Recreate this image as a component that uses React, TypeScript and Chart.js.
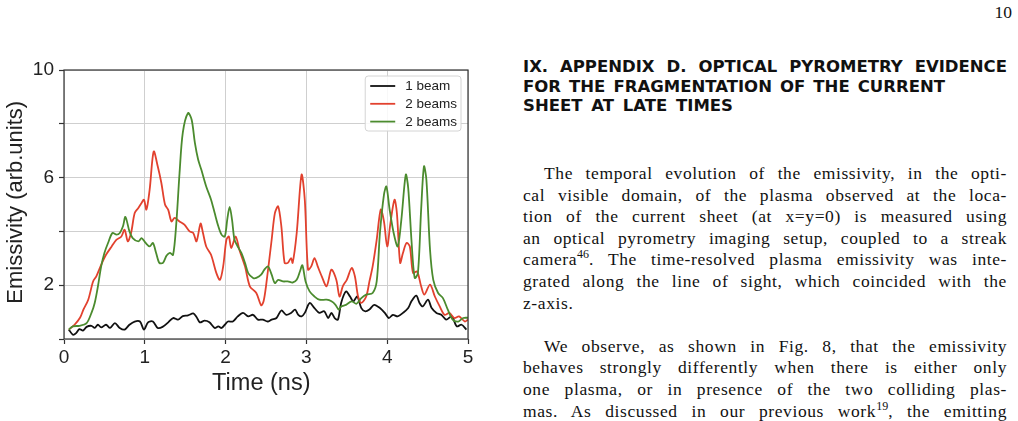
import React, { useEffect, useRef } from "react";
import { Chart, registerables } from "chart.js";

Chart.register(...registerables);

// ---------- data ----------
const seriesLabels = ["1 beam", "2 beams", "2 beams"];
const seriesColors = ["#111111", "#e2412e", "#4b8b2e"];
const xTickValues = [0, 1, 2, 3, 4, 5];
const yTickLabels = [2, 6, 10];

const beam1T = [0.06, 0.11, 0.15, 0.19, 0.235, 0.28, 0.34, 0.38, 0.42, 0.46, 0.52, 0.57, 0.63, 0.69, 0.75, 0.81, 0.875, 0.94, 0.99, 1.04, 1.1, 1.16, 1.22, 1.29, 1.35, 1.41, 1.47, 1.535, 1.6, 1.64, 1.68, 1.74, 1.8, 1.865, 1.91, 1.95, 1.99, 2.03, 2.09, 2.15, 2.215, 2.28, 2.34, 2.4, 2.46, 2.52, 2.57, 2.63, 2.69, 2.75, 2.81, 2.86, 2.9, 2.94, 2.98, 3.04, 3.1, 3.16, 3.22, 3.27, 3.31, 3.35, 3.39, 3.43, 3.49, 3.54, 3.58, 3.63, 3.68, 3.73, 3.78, 3.84, 3.91, 3.97, 4.02, 4.07, 4.13, 4.195, 4.26, 4.3, 4.36, 4.4, 4.44, 4.505, 4.55, 4.61, 4.67, 4.73, 4.8, 4.86, 4.92, 4.98];
const beam1V = [0.35, 0.16, 0.22, 0.37, 0.31, 0.45, 0.49, 0.41, 0.53, 0.43, 0.53, 0.41, 0.59, 0.41, 0.35, 0.53, 0.65, 0.65, 0.35, 0.62, 0.65, 0.41, 0.45, 0.62, 0.78, 0.72, 0.85, 0.88, 0.95, 0.82, 0.62, 0.68, 0.62, 0.41, 0.47, 0.41, 0.53, 0.65, 0.65, 0.84, 0.97, 0.84, 0.9, 0.72, 0.72, 0.65, 0.72, 0.78, 1.06, 0.9, 0.97, 1.09, 0.9, 0.84, 0.97, 1.34, 1.15, 0.97, 1.03, 0.78, 0.97, 0.78, 0.72, 1.34, 1.77, 1.58, 1.4, 1.58, 1.15, 1.03, 1.1, 1.27, 1.15, 0.97, 0.78, 0.9, 0.84, 0.97, 1.15, 1.4, 1.61, 1.34, 1.21, 1.46, 1.15, 0.97, 0.9, 0.72, 0.84, 0.47, 0.53, 0.35];

const redT = [0.06, 0.13, 0.2, 0.24, 0.3, 0.36, 0.4, 0.46, 0.52, 0.59, 0.65, 0.71, 0.75, 0.79, 0.83, 0.875, 0.92, 0.96, 0.99, 1.02, 1.06, 1.11, 1.16, 1.205, 1.25, 1.29, 1.33, 1.37, 1.43, 1.49, 1.555, 1.6, 1.64, 1.69, 1.72, 1.76, 1.82, 1.886, 1.93, 1.97, 2.01, 2.04, 2.07, 2.125, 2.17, 2.24, 2.3, 2.38, 2.44, 2.47, 2.5, 2.57, 2.61, 2.65, 2.69, 2.73, 2.77, 2.81, 2.83, 2.88, 2.94, 2.98, 3.02, 3.06, 3.1, 3.14, 3.19, 3.25, 3.31, 3.37, 3.41, 3.45, 3.5, 3.56, 3.6, 3.64, 3.68, 3.74, 3.78, 3.82, 3.87, 3.92, 3.96, 4.0, 4.04, 4.09, 4.12, 4.16, 4.195, 4.24, 4.28, 4.32, 4.37, 4.42, 4.46, 4.53, 4.59, 4.65, 4.71, 4.77, 4.83, 4.89, 4.96, 5.0];
const redV = [0.35, 0.53, 0.8, 1.09, 1.46, 2.14, 2.33, 2.76, 3.13, 3.44, 3.69, 3.81, 4.06, 3.63, 3.94, 4.68, 4.87, 5.06, 5.18, 4.81, 5.55, 6.97, 6.42, 5.8, 5.0, 4.8, 4.37, 4.5, 4.37, 4.25, 4.0, 3.94, 3.63, 4.29, 3.94, 3.44, 3.13, 2.45, 2.2, 2.7, 3.69, 3.81, 3.38, 3.81, 3.32, 2.7, 1.96, 1.71, 1.25, 1.4, 1.96, 3.69, 4.68, 4.93, 4.19, 2.83, 2.83, 3.01, 2.83, 3.94, 6.11, 5.18, 2.58, 2.7, 3.01, 2.7, 2.33, 1.96, 2.58, 2.2, 1.58, 1.96, 2.2, 2.64, 2.33, 1.58, 1.34, 1.58, 2.14, 2.7, 3.69, 4.81, 4.37, 3.44, 4.31, 5.18, 4.68, 2.83, 3.2, 3.57, 3.44, 2.45, 2.51, 1.96, 1.65, 2.02, 1.58, 1.21, 0.9, 0.97, 0.78, 0.84, 0.65, 0.72];

const greenT = [0.06, 0.11, 0.19, 0.28, 0.34, 0.38, 0.42, 0.46, 0.5, 0.545, 0.6, 0.65, 0.69, 0.73, 0.76, 0.81, 0.85, 0.92, 0.96, 1.01, 1.06, 1.1, 1.14, 1.18, 1.225, 1.27, 1.31, 1.35, 1.39, 1.43, 1.47, 1.535, 1.58, 1.62, 1.66, 1.7, 1.76, 1.82, 1.865, 1.91, 1.95, 1.99, 2.02, 2.05, 2.08, 2.11, 2.15, 2.195, 2.24, 2.28, 2.34, 2.38, 2.44, 2.48, 2.525, 2.57, 2.61, 2.65, 2.71, 2.77, 2.83, 2.88, 2.92, 2.95, 2.99, 3.04, 3.1, 3.16, 3.25, 3.31, 3.36, 3.4, 3.43, 3.49, 3.56, 3.62, 3.68, 3.74, 3.82, 3.87, 3.91, 3.96, 3.99, 4.03, 4.08, 4.13, 4.175, 4.23, 4.26, 4.3, 4.34, 4.38, 4.42, 4.455, 4.485, 4.53, 4.57, 4.63, 4.69, 4.75, 4.81, 4.88, 4.94, 5.0];
const greenV = [0.35, 0.47, 0.49, 0.59, 0.97, 1.34, 1.96, 2.7, 3.2, 3.57, 3.94, 3.88, 3.94, 4.19, 4.54, 4.0, 3.75, 3.63, 3.75, 3.57, 3.44, 3.57, 3.2, 2.83, 2.83, 3.1, 3.2, 3.13, 4.31, 6.17, 7.66, 8.4, 8.15, 7.29, 6.67, 6.29, 5.67, 5.18, 4.68, 4.19, 3.88, 3.81, 4.43, 4.91, 4.43, 3.69, 3.44, 3.2, 2.83, 2.45, 2.27, 2.27, 2.39, 2.58, 2.7, 2.39, 2.08, 2.2, 2.14, 2.14, 2.1, 2.2, 2.51, 2.74, 2.14, 1.77, 1.58, 1.46, 1.46, 1.4, 1.27, 1.09, 1.21, 1.27, 1.4, 1.31, 1.52, 1.65, 1.71, 2.14, 3.94, 5.37, 5.67, 4.81, 3.94, 3.44, 4.43, 6.11, 5.61, 3.69, 2.27, 2.45, 4.81, 6.42, 5.92, 3.32, 2.2, 1.71, 1.52, 1.09, 0.72, 0.65, 0.78, 0.79];

const xTitle = "Time (ns)";
const yTitle = "Emissivity (arb.units)";

// ---------- helpers ----------
const toPoints = (t: number[], v: number[]) => t.map((x, i) => ({ x, y: v[i] }));

const framePlugin = {
  id: "frame",
  afterDatasetsDraw(chart: any) {
    const { ctx, chartArea: a } = chart;
    ctx.save();
    ctx.strokeStyle = "#333333";
    ctx.lineWidth = 1.2;
    ctx.strokeRect(a.left, a.top, a.right - a.left, a.bottom - a.top);
    ctx.restore();
  },
};

const boxLegendPlugin = {
  id: "boxLegend",
  afterDraw(chart: any) {
    const { ctx, chartArea: a } = chart;
    const ds = chart.data.datasets;
    ctx.save();
    ctx.font = '13.5px "Liberation Sans"';
    const tw = Math.max(...ds.map((d: any) => ctx.measureText(d.label).width));
    const w = 40 + tw + 4;
    const h = 55;
    const x0 = a.right - 7 - w;
    const y0 = a.top + 6;
    const r = 3;
    ctx.beginPath();
    ctx.moveTo(x0 + r, y0);
    ctx.lineTo(x0 + w - r, y0);
    ctx.quadraticCurveTo(x0 + w, y0, x0 + w, y0 + r);
    ctx.lineTo(x0 + w, y0 + h - r);
    ctx.quadraticCurveTo(x0 + w, y0 + h, x0 + w - r, y0 + h);
    ctx.lineTo(x0 + r, y0 + h);
    ctx.quadraticCurveTo(x0, y0 + h, x0, y0 + h - r);
    ctx.lineTo(x0, y0 + r);
    ctx.quadraticCurveTo(x0, y0, x0 + r, y0);
    ctx.closePath();
    ctx.fillStyle = "rgba(255,255,255,0.85)";
    ctx.fill();
    ctx.strokeStyle = "#d4d4d4";
    ctx.lineWidth = 1;
    ctx.stroke();
    ds.forEach((d: any, i: number) => {
      const cy = y0 + 10 + i * 17.8;
      ctx.strokeStyle = d.borderColor;
      ctx.lineWidth = 1.8;
      ctx.beginPath();
      ctx.moveTo(x0 + 5, cy);
      ctx.lineTo(x0 + 30, cy);
      ctx.stroke();
      ctx.fillStyle = "#222222";
      ctx.textBaseline = "middle";
      ctx.textAlign = "left";
      ctx.fillText(d.label, x0 + 40, cy + 0.5);
    });
    ctx.restore();
  },
};

function EmissivityChart() {
  const ref = useRef<HTMLCanvasElement | null>(null);
  useEffect(() => {
    if (!ref.current) return;
    const series = [toPoints(beam1T, beam1V), toPoints(redT, redV), toPoints(greenT, greenV)];
    const tickFont = { family: "Liberation Sans", size: 19 };
    const chart = new Chart(ref.current, {
      type: "line",
      data: {
        datasets: series.map((pts, i) => ({
          label: seriesLabels[i],
          data: pts,
          borderColor: seriesColors[i],
          backgroundColor: seriesColors[i],
          borderWidth: 1.8,
          pointRadius: 0,
          tension: 0.3,
          fill: false,
          order: 3 - i,
        })),
      },
      options: {
        animation: false,
        responsive: false,
        maintainAspectRatio: false,
        layout: { padding: { top: 20, right: 12, left: 0, bottom: 0 } },
        plugins: { legend: { display: false }, tooltip: { enabled: false } },
        scales: {
          x: {
            type: "linear",
            min: 0,
            max: 5,
            afterBuildTicks: (s: any) => {
              s.ticks = xTickValues.map((v) => ({ value: v }));
            },
            ticks: { color: "#222222", font: tickFont, padding: 2, maxRotation: 0, autoSkip: false },
            grid: { color: "#cfcfcf", lineWidth: 1, tickLength: 5, tickColor: "#333333", tickWidth: 1.2 },
            border: { display: false },
            title: {
              display: true,
              text: xTitle + "\u2009\u2009",
              color: "#222222",
              font: { family: "Liberation Sans", size: 23.5 },
              padding: { top: 0, bottom: 2 },
            },
            afterFit: (s: any) => {
              s.height = 61;
            },
          },
          y: {
            type: "linear",
            min: 0,
            max: 10,
            ticks: {
              stepSize: 2,
              color: "#222222",
              font: tickFont,
              padding: 5,
              callback: (v: any) => (yTickLabels.includes(Number(v)) ? String(v) : ""),
            },
            grid: { color: "#cfcfcf", lineWidth: 1, tickLength: 5, tickColor: "#333333", tickWidth: 1.2 },
            border: { display: false },
            title: {
              display: true,
              text: "\u2009" + yTitle,
              color: "#222222",
              font: { family: "Liberation Sans", size: 22 },
              padding: { top: 3, bottom: 0 },
            },
            afterFit: (s: any) => {
              s.width = 64;
            },
          },
        },
      },
      plugins: [framePlugin, boxLegendPlugin],
    } as any);
    return () => chart.destroy();
  }, []);
  return (
    <canvas
      ref={ref}
      width={480}
      height={350}
      style={{ position: "absolute", left: 0, top: 50, width: 480, height: 350 }}
    />
  );
}

const headingLines = [
  "FOR THE FRAGMENTATION OF THE CURRENT",
  "SHEET AT LATE TIMES",
];

const serif = '"Liberation Serif", serif';

function JLine(props: { children: any; width: number; indent?: number; last?: boolean }) {
  return (
    <div
      style={{
        height: 21.6,
        width: props.width - (props.indent || 0),
        marginLeft: props.indent || 0,
        whiteSpace: "nowrap",
        textAlign: props.last ? "left" : "justify",
        textAlignLast: props.last ? "left" : "justify",
      } as any}
    >
      {props.children}
    </div>
  );
}

const sup = (s: string) => (
  <span style={{ fontSize: 12, position: "relative", top: -7, letterSpacing: 0 }}>{s}</span>
);

export default function App() {
  return (
    <div
      style={{
        position: "absolute",
        left: 0,
        top: 0,
        width: 1018,
        height: 421,
        overflow: "hidden",
        background: "#ffffff",
      }}
    >
      <EmissivityChart />
      <div
        style={{
          position: "absolute",
          right: 6,
          top: 2,
          fontFamily: serif,
          fontSize: 17.5,
          lineHeight: "21.6px",
          color: "#111",
        }}
      >
        10
      </div>
      <div
        style={{
          position: "absolute",
          left: 523,
          top: 57,
          fontFamily: '"DejaVu Sans", sans-serif',
          fontWeight: "bold",
          fontSize: 16.5,
          lineHeight: "19.6px",
          color: "#111",
        }}
      >
        <div style={{ width: 484, whiteSpace: "nowrap", textAlign: "justify", textAlignLast: "justify" } as any}>
          <span style={{ display: "inline-block", width: 37 }}>IX.</span>APPENDIX D. OPTICAL PYROMETRY EVIDENCE
        </div>
        <div style={{ width: 422, whiteSpace: "nowrap", textAlign: "justify", textAlignLast: "justify" } as any}>
          {headingLines[0]}
        </div>
        <div style={{ width: 210, whiteSpace: "nowrap", textAlign: "justify", textAlignLast: "justify" } as any}>
          {headingLines[1]}
        </div>
      </div>
      <div
        style={{
          position: "absolute",
          left: 523,
          top: 163,
          fontFamily: serif,
          fontSize: 17.5,
          letterSpacing: 0.6,
          lineHeight: "21.6px",
          color: "#111",
        }}
      >
        <JLine width={484} indent={21}>The temporal evolution of the emissivity, in the opti-</JLine>
        <JLine width={484}>cal visible domain, of the plasma observed at the loca-</JLine>
        <JLine width={484}>tion of the current sheet (at x=y=0) is measured using</JLine>
        <JLine width={484}>an optical pyrometry imaging setup, coupled to a streak</JLine>
        <JLine width={484}>camera{sup("46")}. The time-resolved plasma emissivity was inte-</JLine>
        <JLine width={484}>grated along the line of sight, which coincided with the</JLine>
        <JLine width={484} last>z-axis.</JLine>
        <div style={{ height: 21.6 }} />
        <JLine width={484} indent={21}>We observe, as shown in Fig. 8, that the emissivity</JLine>
        <JLine width={484}>behaves strongly differently when there is either only</JLine>
        <JLine width={484}>one plasma, or in presence of the two colliding plas-</JLine>
        <JLine width={484}>mas. As discussed in our previous work{sup("19")}, the emitting</JLine>
      </div>
    </div>
  );
}
